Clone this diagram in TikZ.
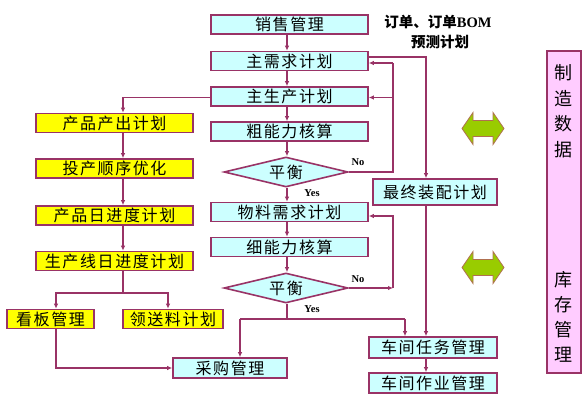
\documentclass[tikz,border=0pt]{standalone}
\usepackage{fontspec}
\usetikzlibrary{arrows.meta,shapes.geometric}
\newfontfamily\cjk{Noto Sans CJK SC}[LetterSpace=10]
\newfontfamily\cjkbig{Noto Sans CJK SC}
\newfontfamily\tnr{Liberation Serif}
\definecolor{lc}{HTML}{993366}
\definecolor{cy}{HTML}{CCFFFF}
\definecolor{ye}{HTML}{FFFF00}
\definecolor{pk}{HTML}{FFCCFF}
\definecolor{gr}{HTML}{99CC00}
\definecolor{gb}{HTML}{B07050}
\tikzset{
  box/.style={draw=lc,line width=1.6pt,inner sep=0pt,font=\cjk\fontsize{16}{17}\selectfont},
  cbox/.style={box,fill=cy,minimum width=157pt,minimum height=19pt},
  ybox/.style={box,fill=ye,minimum height=19pt},
  dia/.style={box,diamond,aspect=4,fill=cy,minimum width=124pt,minimum height=30pt},
  arr/.style={draw=lc,line width=1.3pt,-{Latex[length=5pt,width=4.5pt]}},
  ln/.style={draw=lc,line width=1.3pt},
  yn/.style={font=\tnr\bfseries\fontsize{10.5}{12}\selectfont},
  garrow/.style={fill=gr,draw=gb,line width=0.8pt,line join=miter}
}
\begin{document}
\begin{tikzpicture}[x=1pt,y=-1pt]
\useasboundingbox[fill=white] (0,0) rectangle (585,419);
% right column
\node[cbox] (sales) at (289.5,24.5) {销售管理};
\node[cbox] (mds) at (289.5,61) {主需求计划};
\node[cbox] (mps) at (289.5,96.5) {主生产计划};
\node[cbox] (rccp) at (289.5,131.5) {粗能力核算};
\node[dia] (d1) at (286,172) {平衡};
\node[cbox] (mrp) at (289.5,212) {物料需求计划};
\node[cbox] (crp) at (289.5,247) {细能力核算};
\node[dia] (d2) at (286,288) {平衡};
\node[cbox,minimum width=114pt,minimum height=20pt] (pur) at (230,368) {采购管理};
\node[cbox,minimum width=124pt,minimum height=26pt] (fap) at (435,192) {最终装配计划};
\node[cbox,minimum width=128pt,minimum height=21pt] (task) at (433,347.5) {车间任务管理};
\node[cbox,minimum width=128pt,minimum height=20pt] (op) at (433,383) {车间作业管理};
% left column
\node[ybox,minimum width=157pt] (ppo) at (114.5,123) {产品产出计划};
\node[ybox,minimum width=157pt] (seq) at (114.5,168.5) {投产顺序优化};
\node[ybox,minimum width=157pt] (daily) at (114.5,215.5) {产品日进度计划};
\node[ybox,minimum width=157pt] (ldaily) at (114.5,261) {生产线日进度计划};
\node[ybox,minimum width=87pt] (kan) at (50.5,319) {看板管理};
\node[ybox,minimum width=100pt] (mat) at (173,319) {领送料计划};
% labels
\node[font=\cjkbig\bfseries\fontsize{14.5}{16}\selectfont] (ord) at (438,22) {订单、订单{\tnr\bfseries BOM}};
\node[font=\cjkbig\bfseries\fontsize{14.5}{16}\selectfont] (fc) at (440,42) {预测计划};
\node[yn] (no1) at (358,162) {No};
\node[yn] (yes1) at (312,193) {Yes};
\node[yn] (no2) at (358,279) {No};
\node[yn] (yes2) at (312,309) {Yes};
% pink box
\node[draw=lc,line width=1.6pt,fill=pk,minimum width=34pt,minimum height=322pt,inner sep=0pt] (inv) at (564,212) {};
\node[font=\cjkbig\fontsize{18}{25.5}\selectfont,align=center] (t1) at (563,111) {制\\造\\数\\据};
\node[font=\cjkbig\fontsize{18}{25}\selectfont,align=center] (t2) at (563,317) {库\\存\\管\\理};
% green double arrows
\foreach \cy in {128.5,267.5}{
  \path[garrow] (462,\cy) -- (473,\cy-16) -- (473,\cy-8) -- (493,\cy-8) -- (493,\cy-16) -- (504,\cy)
    -- (493,\cy+16) -- (493,\cy+8) -- (473,\cy+8) -- (473,\cy+16) -- cycle;
}
% coordinates
\coordinate (cx) at (287,0);
\coordinate (fbx) at (393,0);
\coordinate (fb2) at (393,288);
\coordinate (fx) at (426,0);
\coordinate (lx) at (123,0);
\coordinate (jy) at (0,319);
\coordinate (ly) at (0,293);
% right column arrows
\draw[arr] (sales.south -| cx) -- (mds.north -| cx);
\draw[arr] (mds.south -| cx) -- (mps.north -| cx);
\draw[arr] (mps.south -| cx) -- (rccp.north -| cx);
\draw[arr] (rccp.south -| cx) -- (d1.north -| cx);
\draw[arr] (d1.south -| cx) -- (mrp.north -| cx);
\draw[arr] (mrp.south -| cx) -- (crp.north -| cx);
\draw[arr] (crp.south -| cx) -- (d2.north -| cx);
% feedback 1
\draw[ln] (d1.east) -| ([yshift=-2pt]mds.east -| fbx);
\draw[arr] ([yshift=-2pt]mds.east -| fbx) -- ([yshift=-2pt]mds.east);
\draw[arr] ([yshift=-1pt]mps.east -| fbx) -- ([yshift=-1pt]mps.east);
% feedback 2
\draw[arr] (d2.east) -- (fb2);
\draw[arr] (fb2) |- ([yshift=-4pt]mrp.east);
% final assembly
\draw[arr] ([yshift=4pt]mds.east) -| (fap.north -| fx);
\draw[arr] (fap.south -| fx) -- (task.north -| fx);
\draw[arr] (task.south -| fx) -- (op.north -| fx);
% yes branch
\draw[ln] (d2.south -| cx) -- (cx |- jy);
\draw[arr] (240,319) -- (pur.north -| 240,0);
\draw[ln] (240,319) -- (405,319);
\draw[arr] (405,319) -- (task.north -| 405,0);
% left column
\draw[arr] ([yshift=-1pt]mps.west) -| (ppo.north -| lx);
\draw[arr] (ppo.south -| lx) -- (seq.north -| lx);
\draw[arr] (seq.south -| lx) -- (daily.north -| lx);
\draw[arr] (daily.south -| lx) -- (ldaily.north -| lx);
\draw[ln] (ldaily.south -| lx) -- (lx |- ly);
\draw[arr] (lx |- ly) -| (kan.north -| 56,0);
\draw[arr] (lx |- ly) -| (mat.north -| 168,0);
\draw[arr] (kan.south -| 56,0) |- (pur.west);
\end{tikzpicture}
\end{document}
